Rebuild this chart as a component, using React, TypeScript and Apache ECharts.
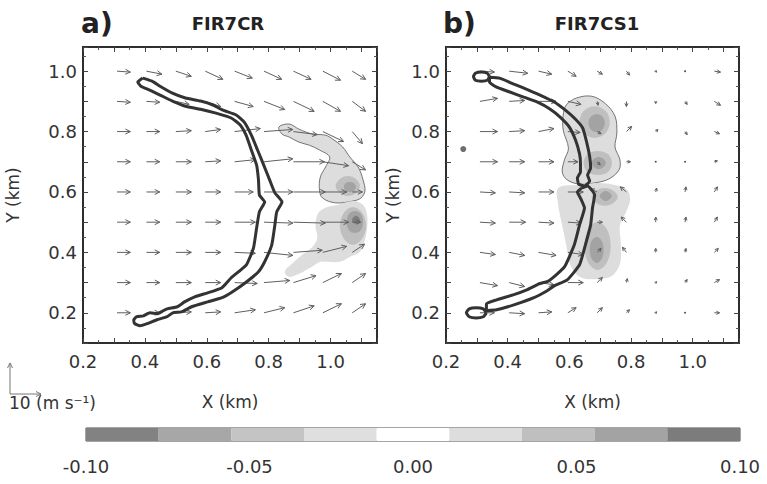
import React, { useEffect, useRef } from "react";
import * as echarts from "echarts";

// ---- wind-vector grid (km) ----
const vecX = [0.31, 0.405, 0.5, 0.595, 0.69, 0.785, 0.88, 0.975, 1.07];
const vecY = [1.0, 0.9, 0.8, 0.7, 0.6, 0.5, 0.4, 0.3, 0.2];

// FIR7CR wind components (m/s); rows run from y = 1.0 down to y = 0.2
const uCR = [
  [4.3, 5.0, 5.0, 5.7, 5.7, 5.7, 5.7, 5.7, 4.3],
  [4.3, 4.3, 4.3, 5.0, 6.0, 6.7, 6.7, 5.7, 4.3],
  [4.3, 4.3, 5.0, 5.0, 8.3, 9.3, 7.7, 6.7, 3.3],
  [4.3, 4.3, 5.0, 5.0, 6.7, 9.3, 10.0, 8.3, 4.3],
  [4.3, 4.3, 5.0, 5.0, 6.0, 9.3, 10.3, 7.7, 3.3],
  [4.3, 4.3, 5.0, 5.0, 6.7, 9.3, 10.3, 8.3, 2.7],
  [4.3, 4.3, 5.0, 5.0, 6.7, 9.3, 9.3, 7.7, 4.0],
  [4.3, 4.3, 5.0, 5.0, 7.3, 8.3, 7.3, 6.0, 4.3],
  [4.3, 4.3, 5.0, 5.0, 6.7, 6.7, 6.7, 6.0, 4.3],
];
const vCR = [
  [-0.3, -1.0, -1.7, -2.7, -2.3, -2.7, -2.7, -3.0, -2.7],
  [-0.3, -0.3, -1.0, -1.7, -1.7, -2.7, -3.3, -3.3, -3.3],
  [0, 0, 0.3, 0.7, 1.0, 0.7, -1.0, -3.3, -4.0],
  [0, 0, 0, 0.3, 0.7, 1.0, 0, -1.3, -2.7],
  [0, 0, 0, 0, 0, 0, 0, 0, 0],
  [0, 0, 0, 0, 0, -0.3, -0.3, 0, 0],
  [0, 0, 0, 0, -0.3, -1.0, 0.7, 2.0, 2.7],
  [0, 0, 0, 0, -0.3, 0.7, 2.3, 3.0, 3.0],
  [0, 0, 0.3, 0.3, 1.0, 1.7, 2.3, 3.0, 3.0],
];

// FIR7CS1 wind components (m/s)
const uCS1 = [
  [4.7, 6.0, 4.3, 2.7, 1.7, 1.0, 0.3, 0.3, 2.0],
  [5.7, 5.0, 5.7, 4.3, 0.3, 0, 0, 0.7, 2.0],
  [5.7, 5.0, 5.0, 4.0, 1.3, 1.7, 0.7, 0.7, 1.7],
  [5.7, 5.0, 5.0, 3.3, 1.0, 1.3, 0.3, 0.3, 1.0],
  [5.0, 5.0, 5.0, 5.0, -2.0, -2.0, 0.3, 0.3, 1.0],
  [5.0, 5.3, 5.0, 4.3, 1.7, -1.7, 0, 0.3, 1.0],
  [5.0, 5.0, 5.7, 5.0, 1.3, -1.3, 0, 0.3, 1.3],
  [5.7, 5.0, 5.0, 5.0, 1.7, 0.3, 0.3, 0.7, 1.7],
  [4.7, 5.0, 4.3, 2.7, 1.7, 1.0, 0.3, 0.3, 1.7],
];
const vCS1 = [
  [-0.3, -0.7, -1.0, -1.7, -1.0, -1.3, -0.3, 0, -0.3],
  [1.0, 0.3, 0, -1.0, -1.3, -1.7, -0.7, -1.0, -1.3],
  [0, 0.3, 1.0, -0.3, -0.7, 1.7, 0.7, -1.0, -0.7],
  [0, 0, 0, 0, -1.0, 0, 0, 0, 0.3],
  [-0.3, -0.3, 0, 0, 1.0, 1.7, 1.3, 1.7, 1.7],
  [-0.3, 0, -0.3, -0.3, 0, 1.7, 1.7, 1.7, 1.7],
  [-0.7, -1.0, -1.0, -0.7, 1.3, 1.7, 1.3, 1.3, 1.3],
  [-1.0, -1.3, -0.7, 0, 1.7, 1.3, 0.3, 1.0, 1.0],
  [0, -0.3, 0.3, 1.7, 1.7, 1.0, 0.3, 0, 0],
];

// ---- fire-line outlines (km) ----
const fireCR = [
  [0.393, 0.977], [0.423, 0.967], [0.449, 0.95], [0.489, 0.927], [0.531, 0.911], [0.58, 0.901],
  [0.62, 0.888], [0.652, 0.871], [0.695, 0.855], [0.721, 0.831], [0.744, 0.788], [0.764, 0.739],
  [0.784, 0.689], [0.803, 0.64], [0.82, 0.597], [0.843, 0.567], [0.826, 0.534], [0.82, 0.491],
  [0.81, 0.425], [0.787, 0.369], [0.767, 0.336], [0.728, 0.302], [0.682, 0.269], [0.649, 0.25],
  [0.603, 0.236], [0.551, 0.22], [0.518, 0.203], [0.49, 0.2], [0.472, 0.187], [0.439, 0.177],
  [0.407, 0.164], [0.384, 0.157], [0.367, 0.164], [0.364, 0.177], [0.374, 0.187], [0.395, 0.19],
  [0.416, 0.2], [0.44, 0.197], [0.456, 0.205], [0.472, 0.213], [0.505, 0.22], [0.528, 0.236],
  [0.561, 0.253], [0.603, 0.266], [0.649, 0.283], [0.679, 0.316], [0.728, 0.359], [0.751, 0.415],
  [0.761, 0.481], [0.77, 0.534], [0.787, 0.567], [0.77, 0.59], [0.767, 0.64], [0.761, 0.689],
  [0.744, 0.739], [0.727, 0.788], [0.708, 0.822], [0.679, 0.845], [0.63, 0.861], [0.58, 0.874],
  [0.531, 0.884], [0.489, 0.901], [0.449, 0.921], [0.416, 0.937], [0.387, 0.95], [0.377, 0.964],
  [0.393, 0.977],
];
const fireCS1Upper = [
  [0.341, 0.98], [0.374, 0.977], [0.42, 0.957], [0.462, 0.94], [0.505, 0.921], [0.551, 0.898],
  [0.587, 0.871], [0.62, 0.841], [0.643, 0.812], [0.656, 0.765], [0.666, 0.716], [0.669, 0.679],
  [0.659, 0.656], [0.666, 0.636], [0.649, 0.62], [0.63, 0.626], [0.626, 0.646], [0.636, 0.666],
  [0.636, 0.696], [0.633, 0.726], [0.62, 0.772], [0.6, 0.815], [0.57, 0.848], [0.538, 0.874],
  [0.495, 0.898], [0.452, 0.914], [0.407, 0.931], [0.364, 0.947], [0.341, 0.964], [0.341, 0.98],
];
const fireCS1Lower = [
  [0.639, 0.613], [0.659, 0.62], [0.682, 0.59], [0.675, 0.547], [0.669, 0.491], [0.652, 0.425],
  [0.633, 0.359], [0.593, 0.309], [0.551, 0.289], [0.528, 0.273], [0.485, 0.25], [0.42, 0.226],
  [0.364, 0.21], [0.331, 0.207], [0.331, 0.23], [0.364, 0.243], [0.42, 0.26], [0.462, 0.276],
  [0.502, 0.296], [0.534, 0.306], [0.584, 0.352], [0.616, 0.425], [0.633, 0.491], [0.649, 0.547],
  [0.636, 0.58], [0.626, 0.6], [0.639, 0.613],
];
const fireCS1NorthLoop = [
  [0.341, 0.982], [0.334, 0.97], [0.315, 0.967], [0.295, 0.97], [0.289, 0.982],
  [0.295, 0.993], [0.315, 0.997], [0.334, 0.993], [0.341, 0.982],
];
const fireCS1SouthLoop = [
  [0.331, 0.2], [0.321, 0.187], [0.298, 0.183], [0.275, 0.187], [0.266, 0.2],
  [0.275, 0.213], [0.298, 0.217], [0.321, 0.213], [0.331, 0.2],
];
const spotCS1 = [[0.256, 0.742]];

// ---- shaded contours of the perturbation field (km) ----
const crNorth = [
  [0.833, 0.815], [0.866, 0.825], [0.898, 0.808], [0.941, 0.792], [0.984, 0.788], [1.007, 0.775],
  [1.039, 0.749], [1.062, 0.716], [1.089, 0.683], [1.105, 0.64], [1.111, 0.603], [1.098, 0.58],
  [1.072, 0.57], [1.016, 0.564], [0.974, 0.58], [0.964, 0.607], [0.967, 0.65], [0.984, 0.683],
  [0.997, 0.716], [0.964, 0.739], [0.931, 0.755], [0.898, 0.765], [0.866, 0.782], [0.843, 0.792],
];
const crNorthMid = [
  [1.095, 0.62], [1.082, 0.597], [1.056, 0.587], [1.03, 0.597], [1.016, 0.62],
  [1.03, 0.643], [1.056, 0.653], [1.082, 0.643],
];
const crNorthCore = [
  [1.082, 0.617], [1.075, 0.603], [1.062, 0.6], [1.049, 0.603], [1.043, 0.617],
  [1.049, 0.63], [1.062, 0.633], [1.075, 0.63],
];
const crSouth = [
  [1.023, 0.557], [1.072, 0.57], [1.105, 0.557], [1.118, 0.524], [1.118, 0.481], [1.111, 0.441],
  [1.095, 0.402], [1.062, 0.385], [1.03, 0.369], [0.99, 0.369], [0.967, 0.369], [0.934, 0.349],
  [0.898, 0.329], [0.866, 0.319], [0.852, 0.336], [0.875, 0.362], [0.908, 0.392], [0.941, 0.418],
  [0.957, 0.448], [0.951, 0.491], [0.961, 0.531], [0.99, 0.55],
];
const crSouthMid = [
  [1.115, 0.488], [1.102, 0.445], [1.072, 0.425], [1.043, 0.445], [1.03, 0.488],
  [1.043, 0.531], [1.072, 0.55], [1.102, 0.531],
];
const crSouthDark = [
  [1.105, 0.501], [1.098, 0.474], [1.079, 0.464], [1.059, 0.474], [1.052, 0.501],
  [1.059, 0.527], [1.079, 0.537], [1.098, 0.527],
];
const crSouthCore = [[1.095, 0.507], [1.082, 0.494], [1.069, 0.507], [1.082, 0.521]];

const cs1North = [
  [0.59, 0.888], [0.623, 0.911], [0.672, 0.917], [0.715, 0.894], [0.748, 0.851], [0.754, 0.795],
  [0.748, 0.749], [0.764, 0.706], [0.761, 0.673], [0.728, 0.643], [0.682, 0.63], [0.633, 0.626],
  [0.593, 0.64], [0.577, 0.666], [0.584, 0.706], [0.597, 0.745], [0.58, 0.805], [0.58, 0.855],
];
const cs1NorthMidA = [
  [0.731, 0.831], [0.718, 0.795], [0.682, 0.779], [0.646, 0.795], [0.633, 0.831],
  [0.646, 0.868], [0.682, 0.884], [0.718, 0.868],
];
const cs1NorthCoreA = [
  [0.715, 0.828], [0.708, 0.808], [0.689, 0.798], [0.669, 0.808], [0.662, 0.828],
  [0.669, 0.848], [0.689, 0.858], [0.708, 0.848],
];
const cs1NorthMidB = [
  [0.738, 0.696], [0.725, 0.666], [0.692, 0.656], [0.659, 0.666], [0.646, 0.696],
  [0.659, 0.726], [0.692, 0.736], [0.725, 0.726],
];
const cs1NorthCoreB = [
  [0.718, 0.696], [0.711, 0.683], [0.695, 0.676], [0.679, 0.683], [0.672, 0.696],
  [0.679, 0.709], [0.695, 0.716], [0.711, 0.709],
];
const cs1South = [
  [0.564, 0.613], [0.63, 0.623], [0.695, 0.63], [0.748, 0.623], [0.787, 0.607], [0.797, 0.574],
  [0.784, 0.534], [0.764, 0.491], [0.767, 0.425], [0.764, 0.362], [0.738, 0.322], [0.695, 0.312],
  [0.639, 0.316], [0.607, 0.349], [0.593, 0.408], [0.58, 0.474], [0.564, 0.557],
];
const cs1SouthMidA = [
  [0.757, 0.583], [0.744, 0.564], [0.715, 0.554], [0.685, 0.564], [0.672, 0.583],
  [0.685, 0.603], [0.715, 0.613], [0.744, 0.603],
];
const cs1SouthCoreA = [
  [0.738, 0.587], [0.731, 0.577], [0.718, 0.57], [0.705, 0.577], [0.698, 0.587],
  [0.705, 0.597], [0.718, 0.603], [0.731, 0.597],
];
const cs1SouthMidB = [
  [0.734, 0.421], [0.721, 0.365], [0.692, 0.342], [0.662, 0.365], [0.649, 0.421],
  [0.662, 0.478], [0.692, 0.501], [0.721, 0.478],
];
const cs1SouthCoreB = [
  [0.711, 0.408], [0.705, 0.379], [0.689, 0.365], [0.672, 0.379], [0.666, 0.408],
  [0.672, 0.438], [0.689, 0.451], [0.705, 0.438],
];

// contour level (colour-bar bin index) of each shaded region
const crShades = [
  { pts: crNorth, level: 5, edge: true },
  { pts: crNorthMid, level: 6 },
  { pts: crNorthCore, level: 7 },
  { pts: crSouth, level: 5 },
  { pts: crSouthMid, level: 6 },
  { pts: crSouthDark, level: 7 },
  { pts: crSouthCore, level: 8 },
];
const cs1Shades = [
  { pts: cs1North, level: 5, edge: true },
  { pts: cs1NorthMidA, level: 6 },
  { pts: cs1NorthCoreA, level: 7 },
  { pts: cs1NorthMidB, level: 6 },
  { pts: cs1NorthCoreB, level: 7 },
  { pts: cs1South, level: 5 },
  { pts: cs1SouthMidA, level: 6 },
  { pts: cs1SouthCoreA, level: 7 },
  { pts: cs1SouthMidB, level: 6 },
  { pts: cs1SouthCoreB, level: 7 },
];

// axis ticks and colour bar
const xTickLabels = [0.2, 0.4, 0.6, 0.8, 1.0];
const yTickLabels = [0.2, 0.4, 0.6, 0.8, 1.0];
const cbarMin = -0.1;
const cbarMax = 0.1;
const cbarTickLabels = [-0.1, -0.05, 0, 0.05, 0.1];
const cbarShades = ["#828282", "#a7a7a7", "#c4c4c4", "#dfdfdf", "#ffffff", "#dddddd", "#bfbfbf", "#a3a3a3", "#7c7c7c"];

const VEC_SCALE = 0.01; // km of arrow per m/s (10 m/s -> 0.1 km)
const FONT = '"DejaVu Sans", "Liberation Sans", sans-serif';
const TXT = "#333";

function vectorData(u: number[][], v: number[][]) {
  const out: number[][] = [];
  vecY.forEach((y, i) =>
    vecX.forEach((x, j) => out.push([x, y, u[i][j], v[i][j]]))
  );
  return out;
}

function arrowItem(_params: any, api: any) {
  const x = api.value(0);
  const y = api.value(1);
  const u = api.value(2);
  const v = api.value(3);
  const p0 = api.coord([x, y]);
  const p1 = api.coord([x + u * VEC_SCALE, y + v * VEC_SCALE]);
  const dx = p1[0] - p0[0];
  const dy = p1[1] - p0[1];
  const len = Math.hypot(dx, dy);
  const stroke = "#5f5f5f";
  if (len < 1.2) {
    return { type: "circle", shape: { cx: p0[0], cy: p0[1], r: 0.9 }, style: { fill: "#444" } };
  }
  const ux = dx / len;
  const uy = dy / len;
  const h = Math.min(5, 1.6 + len * 0.3);
  const w = h * 0.5;
  const bx = p1[0] - ux * h;
  const by = p1[1] - uy * h;
  return {
    type: "group",
    children: [
      { type: "line", shape: { x1: p0[0], y1: p0[1], x2: p1[0], y2: p1[1] }, style: { stroke, lineWidth: 1 } },
      {
        type: "polyline",
        shape: { points: [[bx - uy * w, by + ux * w], [p1[0], p1[1]], [bx + uy * w, by - ux * w]] },
        style: { stroke, lineWidth: 1, fill: null },
      },
    ],
  };
}

function shadeSeries(shades: any[], axis: number) {
  return {
    type: "custom",
    xAxisIndex: axis,
    yAxisIndex: axis,
    silent: true,
    z: 1,
    data: shades.map((s) => [s.pts[0][0], s.pts[0][1]]),
    renderItem: (params: any, api: any) => {
      const s = shades[params.dataIndex];
      return {
        type: "polygon",
        shape: { points: s.pts.map((p: number[]) => api.coord(p)), smooth: 0.35 },
        style: {
          fill: cbarShades[s.level],
          stroke: s.edge ? "#555" : null,
          lineWidth: s.edge ? 0.8 : 0,
        },
      };
    },
  };
}

function fireSeries(pts: number[][], axis: number) {
  return {
    type: "line",
    xAxisIndex: axis,
    yAxisIndex: axis,
    data: pts,
    symbol: "none",
    showSymbol: false,
    smooth: 0.15,
    silent: true,
    z: 4,
    lineStyle: { color: "#333", width: 3 },
  };
}

function vectorSeries(u: number[][], v: number[][], axis: number) {
  return {
    type: "custom",
    xAxisIndex: axis,
    yAxisIndex: axis,
    silent: true,
    z: 3,
    data: vectorData(u, v),
    renderItem: arrowItem,
  };
}

const pick = (ticks: number[], digits: number) => (val: number) =>
  ticks.some((t) => Math.abs(t - val) < 1e-6) ? val.toFixed(digits) : "";

const tickStyle = {
  axisLine: { show: false },
  axisTick: { show: true, inside: true, length: 5, lineStyle: { color: "#444", width: 1 } },
  minorTick: { show: true, splitNumber: 2, length: 3, lineStyle: { color: "#555", width: 1 } },
  splitLine: { show: false },
  minorSplitLine: { show: false },
};

function panelAxes(gridIndex: number, yNameGap: number) {
  const xBase = { type: "value", gridIndex, min: 0.2, max: 1.15, interval: 0.1, ...tickStyle };
  const yBase = { type: "value", gridIndex, min: 0.1, max: 1.08, interval: 0.1, ...tickStyle };
  const label = { fontFamily: FONT, fontSize: 18, color: TXT };
  return {
    x: [
      {
        ...xBase,
        position: "bottom",
        axisLabel: { ...label, margin: 9, formatter: pick(xTickLabels, 1) },
        name: "X (km)",
        nameLocation: "middle",
        nameGap: 50,
        nameTextStyle: { fontFamily: FONT, fontSize: 17, color: TXT },
      },
      { ...xBase, position: "top", axisLabel: { show: false } },
    ],
    y: [
      {
        ...yBase,
        position: "left",
        axisLabel: { ...label, margin: 6, formatter: pick(yTickLabels, 1) },
        name: "Y (km)",
        nameLocation: "middle",
        nameGap: yNameGap,
        nameTextStyle: { fontFamily: FONT, fontSize: 17, color: TXT },
      },
      { ...yBase, position: "right", axisLabel: { show: false } },
    ],
  };
}

export default function App() {
  const ref = useRef<HTMLDivElement>(null);

  useEffect(() => {
    if (!ref.current) return;
    const chart = echarts.init(ref.current, undefined, { renderer: "svg" });

    const a = panelAxes(0, 62);
    const b = panelAxes(1, 45);

    const step = (cbarMax - cbarMin) / cbarShades.length;
    const cbarCells = cbarShades.map((_, i) => [cbarMin + i * step, cbarMin + (i + 1) * step, i]);

    const frame = { show: true, borderColor: "#2e2e2e", borderWidth: 2, backgroundColor: "transparent" };

    chart.setOption({
      animation: false,
      backgroundColor: "#ffffff",
      grid: [
        { left: 83, top: 47, width: 294, height: 296, ...frame },
        { left: 446, top: 47, width: 293, height: 296, ...frame },
        { left: 86, top: 428, width: 654, height: 13, show: true, borderColor: "#4a4a4a", borderWidth: 1 },
      ],
      xAxis: [
        a.x[0],
        { ...a.x[1] },
        { ...b.x[0], gridIndex: 1 },
        { ...b.x[1], gridIndex: 1 },
        {
          type: "value",
          gridIndex: 2,
          min: cbarMin,
          max: cbarMax,
          interval: 0.05,
          axisLine: { show: false },
          axisTick: { show: false },
          splitLine: { show: false },
          axisLabel: { fontFamily: FONT, fontSize: 18, color: TXT, margin: 16, formatter: pick(cbarTickLabels, 2) },
        },
      ],
      yAxis: [
        a.y[0],
        a.y[1],
        { ...b.y[0], gridIndex: 1 },
        { ...b.y[1], gridIndex: 1 },
        { type: "value", gridIndex: 2, min: 0, max: 1, show: false },
      ],
      graphic: [
        { type: "text", style: { text: "a)", x: 81, y: 23, font: `bold 28px ${FONT}`, fill: "#222", verticalAlign: "middle", textVerticalAlign: "middle" } },
        { type: "text", style: { text: "FIR7CR", x: 228, y: 23, font: `bold 18px ${FONT}`, fill: "#222", align: "center", textAlign: "center", verticalAlign: "middle", textVerticalAlign: "middle" } },
        { type: "text", style: { text: "b)", x: 443, y: 23, font: `bold 28px ${FONT}`, fill: "#222", verticalAlign: "middle", textVerticalAlign: "middle" } },
        { type: "text", style: { text: "FIR7CS1", x: 597, y: 23, font: `bold 18px ${FONT}`, fill: "#222", align: "center", textAlign: "center", verticalAlign: "middle", textVerticalAlign: "middle" } },
        // reference vector: 10 m/s in each direction
        { type: "line", shape: { x1: 10, y1: 394, x2: 10, y2: 363 }, style: { stroke: "#777", lineWidth: 1 } },
        { type: "polyline", shape: { points: [[7.5, 368], [10, 363], [12.5, 368]] }, style: { stroke: "#777", lineWidth: 1, fill: null } },
        { type: "line", shape: { x1: 10, y1: 394, x2: 41, y2: 394 }, style: { stroke: "#777", lineWidth: 1 } },
        { type: "polyline", shape: { points: [[36, 391.5], [41, 394], [36, 396.5]] }, style: { stroke: "#777", lineWidth: 1, fill: null } },
        { type: "text", style: { text: "10 (m s\u207B\u00B9)", x: 9, y: 403, font: `17px ${FONT}`, fill: TXT, verticalAlign: "middle", textVerticalAlign: "middle" } },
      ],
      series: [
        shadeSeries(crShades, 0),
        vectorSeries(uCR, vCR, 0),
        fireSeries(fireCR, 0),

        shadeSeries(cs1Shades, 2),
        vectorSeries(uCS1, vCS1, 2),
        fireSeries(fireCS1Upper, 2),
        fireSeries(fireCS1Lower, 2),
        fireSeries(fireCS1NorthLoop, 2),
        fireSeries(fireCS1SouthLoop, 2),
        {
          type: "scatter",
          xAxisIndex: 2,
          yAxisIndex: 2,
          data: spotCS1,
          symbolSize: 6,
          itemStyle: { color: "#4a4a4a" },
          silent: true,
          z: 4,
        },

        {
          type: "custom",
          xAxisIndex: 4,
          yAxisIndex: 4,
          silent: true,
          data: cbarCells,
          renderItem: (_p: any, api: any) => {
            const lo = api.coord([api.value(0), 0]);
            const hi = api.coord([api.value(1), 1]);
            return {
              type: "rect",
              shape: { x: lo[0], y: hi[1], width: hi[0] - lo[0], height: lo[1] - hi[1] },
              style: { fill: cbarShades[api.value(2)] },
            };
          },
        },
      ],
    });

    return () => chart.dispose();
  }, []);

  return (
    <div
      ref={ref}
      style={{ position: "absolute", left: 0, top: 0, width: 767, height: 484, background: "#fff" }}
    />
  );
}
